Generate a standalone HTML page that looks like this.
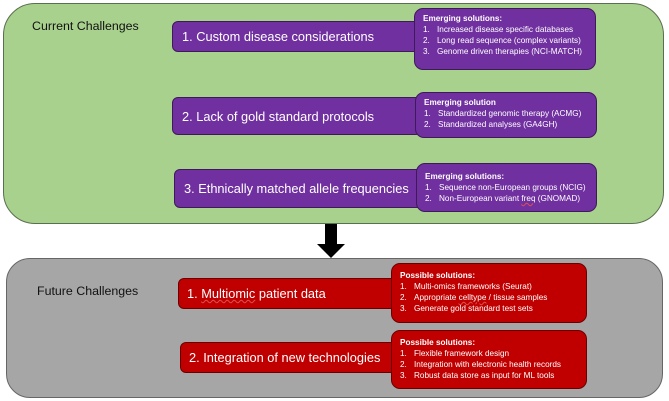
<!DOCTYPE html>
<html><head><meta charset="utf-8"><style>
body{margin:0;width:669px;height:401px;background:#fff;position:relative;overflow:hidden;font-family:"Liberation Sans",sans-serif}
.a{position:absolute;box-sizing:border-box}
.g{left:3px;top:3px;width:661px;height:221px;background:#a9d18e;border:1.5px solid #5a6e50;border-radius:32px}
.gr{left:6px;top:258px;width:657px;height:140px;background:#a6a6a6;border:1.5px solid #666;border-radius:24px}
.t{font-size:12.4px;color:#111}
.p{background:#7030a0;border:1px solid #3e1a5a;border-radius:6px;color:#fff;font-size:12.8px;display:flex;align-items:center;padding-left:9px;white-space:nowrap;overflow:hidden}
.r{background:#c00000;border:1px solid #6a0000;border-radius:6px;color:#fff;font-size:12.8px;display:flex;align-items:center;padding-left:8px;white-space:nowrap;overflow:hidden}
.s{border-radius:9px;color:#fff;font-size:8.2px;line-height:11px;padding:4px 0 0 8px;white-space:nowrap}
.s b{display:block}
.s div span{display:inline-block;width:14px}
.sp{background:#7030a0;border:1px solid #3e1a5a}
.sr{background:#c00000;border:1px solid #6a0000}
u{text-decoration:underline wavy #e05050;text-decoration-thickness:1px}
</style></head><body>
<div class="a g"></div>
<div class="a t" style="left:32px;top:19px">Current Challenges</div>
<div class="a p" style="left:172px;top:21px;width:250px;height:31px">1. Custom disease considerations</div>
<div class="a s sp" style="left:414px;top:8px;width:182px;height:62px"><b>Emerging solutions:</b><div><span>1.</span>Increased disease specific databases</div><div><span>2.</span>Long read sequence (complex variants)</div><div><span>3.</span>Genome driven therapies (NCI-MATCH)</div></div>
<div class="a p" style="left:172px;top:97px;width:250px;height:38px">2. Lack of gold standard protocols</div>
<div class="a s sp" style="left:415px;top:92px;width:182px;height:46px"><b>Emerging solution</b><div><span>1.</span>Standardized genomic therapy (ACMG)</div><div><span>2.</span>Standardized analyses (GA4GH)</div></div>
<div class="a p" style="left:174px;top:169px;width:250px;height:39px">3. Ethnically matched allele frequencies</div>
<div class="a s sp" style="left:416px;top:163px;width:181px;height:49px;padding-top:7px"><b>Emerging solutions:</b><div><span>1.</span>Sequence non-European groups (NCIG)</div><div><span>2.</span>Non-European variant <u>freq</u> (GNOMAD)</div></div>
<div class="a" style="left:325px;top:224px;width:12px;height:21px;background:#000"></div>
<div class="a" style="left:317px;top:244px;width:0;height:0;border-left:14px solid transparent;border-right:14px solid transparent;border-top:14px solid #000"></div>
<div class="a gr"></div>
<div class="a t" style="left:37px;top:284px">Future Challenges</div>
<div class="a r" style="left:178px;top:278px;width:220px;height:31px">1.&nbsp;<u>Multiomic</u>&nbsp;patient data</div>
<div class="a s sr" style="left:391px;top:263px;width:196px;height:60px;padding-top:6px"><b>Possible solutions:</b><div><span>1.</span>Multi-omics frameworks (Seurat)</div><div><span>2.</span>Appropriate <u>celltype</u> / tissue samples</div><div><span>3.</span>Generate gold standard test sets</div></div>
<div class="a r" style="left:180px;top:342px;width:220px;height:31px">2. Integration of new technologies</div>
<div class="a s sr" style="left:391px;top:330px;width:196px;height:59px;padding-top:6px"><b>Possible solutions:</b><div><span>1.</span>Flexible framework design</div><div><span>2.</span>Integration with electronic health records</div><div><span>3.</span>Robust data store as input for ML tools</div></div>
</body></html>
